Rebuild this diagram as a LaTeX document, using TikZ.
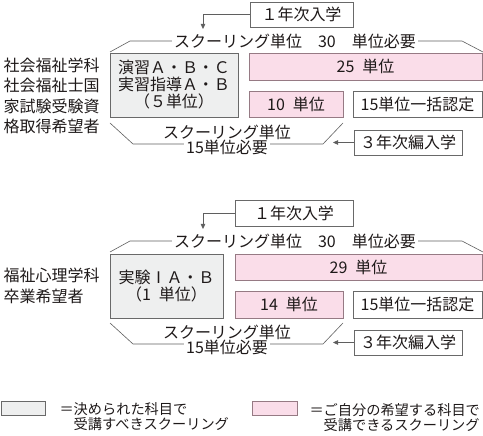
\documentclass[tikz,border=0pt]{standalone}
\usepackage{fontspec}
\setmainfont{Noto Sans CJK JP}
\usetikzlibrary{arrows.meta}

\definecolor{inkgray}{RGB}{30,25,25}
\definecolor{lineg}{RGB}{95,95,95}
\definecolor{boxline}{RGB}{105,105,105}
\definecolor{fixedgray}{RGB}{238,239,239}
\definecolor{freepink}{RGB}{250,221,233}
\definecolor{pinkline}{RGB}{150,122,132}

\newcommand{\gapsp}{\hspace{0.5em}}

\begin{document}
\begin{tikzpicture}[x=1pt,y=-1pt,
			>={Triangle[length=5pt,width=4.5pt]},
			font=\fontsize{16}{17}\selectfont, text=inkgray,
			fixed box/.style={draw=boxline,fill=fixedgray,inner sep=0pt,align=center},
			free box/.style={draw=pinkline,fill=freepink,inner sep=0pt},
			plain box/.style={draw=boxline,fill=white,inner sep=0pt},
			entry box/.style={draw=boxline,fill=white,inner sep=0pt,minimum height=25pt},
			bracket/.style={draw=lineg,line width=0.6pt},
			bracket label/.style={fill=white,inner xsep=2pt,inner ysep=0pt},
			course label/.style={anchor=west,align=left,font=\fontsize{16}{20.5}\selectfont},
			key label/.style={anchor=north west,align=left,font=\fontsize{14.2}{15}\selectfont}
			]
			
			\useasboundingbox (0,0) rectangle (483,436);
			
			% 社会福祉学科
			\node[course label] (L1) at (0,96) {社会福祉学科\\社会福祉士国\\家試験受験資\\格取得希望者};
			
			\node[entry box,minimum width=103pt] (e1) at (301.5,14.5) {１年次入学};
			\coordinate (t1) at (203,29);
			\draw[->,lineg] (e1.west) -| (t1);
			
			\draw[bracket] (110,52) -- (130,41) -- (462,41) -- (483,52);
			\node[bracket label] (s1) at (295,41) {スクーリング単位　30　単位必要};
			
			\node[fixed box,minimum width=128pt,minimum height=64pt] (g1) at (174,85) {演習Ａ・Ｂ・Ｃ\\実習指導Ａ・Ｂ\\（５単位）};
			\node[free box,minimum width=233pt,minimum height=27pt] (p1) at (365.5,66.5) {25\gapsp 単位};
			\node[free box,minimum width=94pt,minimum height=26pt] (q1) at (296,104) {10\gapsp 単位};
			\node[plain box,minimum width=129pt,minimum height=26pt] (w1) at (417.5,104) {15単位一括認定};
			
			\draw[bracket] (110,123) -- (133,144) -- (323,144) -- (343,123);
			\node (r1) at (227,132) {スクーリング単位};
			\node[bracket label] (n1) at (227,147) {15単位必要};
			
			\node[entry box,minimum width=108pt] (e3) at (408,142.5) {３年次編入学};
			\coordinate (t3) at (333,142.5);
			\draw[->,lineg] (e3.west) -- (t3);
			
			% 福祉心理学科
			\node[course label] (L2) at (0,286) {福祉心理学科\\卒業希望者};
			
			\node[entry box,minimum width=118pt,minimum height=26pt] (e2) at (294,213) {１年次入学};
			\coordinate (t2) at (203,229);
			\draw[->,lineg] (e2.west) -| (t2);
			
			\draw[bracket] (110,252) -- (130,241) -- (462,241) -- (483,252);
			\node[bracket label] (s2) at (295,241) {スクーリング単位　30　単位必要};
			
			\node[fixed box,minimum width=113pt,minimum height=64pt] (g2) at (166.5,286) {実験ⅠＡ・Ｂ\\（1\gapsp 単位）};
			\node[free box,minimum width=247pt,minimum height=26pt] (p2) at (358.5,267) {29\gapsp 単位};
			\node[free box,minimum width=108pt,minimum height=27pt] (q2) at (289,304.5) {14\gapsp 単位};
			\node[plain box,minimum width=129pt,minimum height=27pt] (w2) at (417.5,304.5) {15単位一括認定};
			
			\draw[bracket] (110,323) -- (133,344) -- (323,344) -- (343,323);
			\node (r2) at (227,332) {スクーリング単位};
			\node[bracket label] (n2) at (227,347) {15単位必要};
			
			\node[entry box,minimum width=108pt] (e4) at (408,342.5) {３年次編入学};
			\coordinate (t4) at (333,342.5);
			\draw[->,lineg] (e4.west) -- (t4);
			
			% 凡例
			\node[fixed box,minimum width=44pt,minimum height=14pt] (k1) at (22.75,408) {};
			\node[key label] (k1t) at (56,399.5) {＝決められた科目で\\\phantom{＝}受講すべきスクーリング};
			\node[free box,minimum width=45pt,minimum height=14pt] (k2) at (274.5,408) {};
			\node[key label] (k2t) at (306,399.5) {＝ご自分の希望する科目で\\\phantom{＝}受講できるスクーリング};
			
\end{tikzpicture}
\end{document}
